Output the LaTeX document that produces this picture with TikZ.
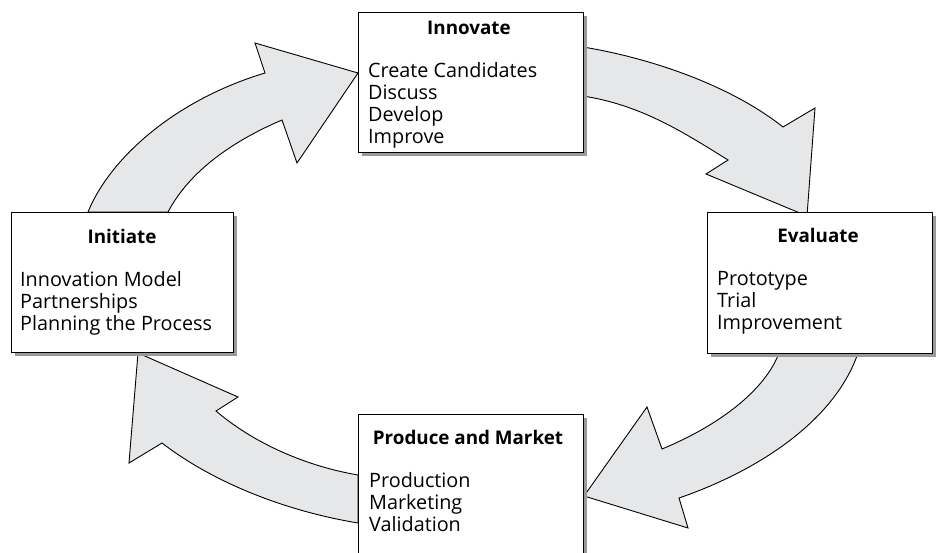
\documentclass[tikz,border=0pt]{standalone}
\usepackage{fontspec}
\setmainfont[Ligatures=NoCommon]{Open Sans}
\usetikzlibrary{shadows}
\definecolor{bandgray}{HTML}{E6E7E8}
\definecolor{shadowgray}{HTML}{9A9A9A}
\begin{document}
\begin{tikzpicture}[x=1pt,y=-1pt,
  band/.style={fill=bandgray, draw=black, line width=0.9pt, line join=miter},
  stagebox/.style={draw=black, line width=1.4pt, fill=white, anchor=north west, inner sep=0pt,
     drop shadow={shadow xshift=3pt, shadow yshift=-3pt, fill=shadowgray, opacity=1}},
  stagetitle/.style={font=\fontsize{18.8}{22}\selectfont\bfseries, anchor=base, inner sep=0pt},
  stageitem/.style={font=\fontsize{19.8}{22}\selectfont, anchor=base west, inner sep=0pt}]
\useasboundingbox (0,0) rectangle (941,552);

% arrows
\draw[band] (88,212) .. controls (110,158) and (175,100) .. (265,73) -- (255,43) -- (358,73) -- (297,163) -- (282,120)
  .. controls (235,140) and (190,170) .. (168,212) -- cycle;
\draw[band] (583,47) .. controls (650,58) and (730,85) .. (783,127) -- (815,108) -- (807,216) -- (706,174) -- (728,160)
  .. controls (680,130) and (640,105) .. (583,96) -- cycle;
\draw[band] (858,353) .. controls (835,420) and (760,470) .. (679,498) -- (688,528) -- (584,496) -- (647,407) -- (662,449)
  .. controls (720,425) and (765,390) .. (779,353) -- cycle;
\draw[band] (358,475) .. controls (300,465) and (250,440) .. (216,411) -- (238,397) -- (138,353) -- (129,463) -- (162,443)
  .. controls (210,480) and (280,510) .. (358,523) -- cycle;

% boxes
\node[stagebox, minimum width=225pt, minimum height=140pt] (innovate) at (358,12) {};
\node[stagebox, minimum width=222pt, minimum height=140pt] (initiate) at (11,212) {};
\node[stagebox, minimum width=225pt, minimum height=141pt] (evaluate) at (707,212) {};
\node[stagebox, minimum width=225pt, minimum height=150pt] (produce) at (358,414) {};

% texts
\node[stagetitle] (t1) at (469,34) {Innovate};
\node[stageitem] (i11) at (368,77) {Create Candidates};
\node[stageitem] (i12) at (368,99) {Discuss};
\node[stageitem] (i13) at (368,121) {Develop};
\node[stageitem] (i14) at (368,143) {Improve};

\node[stagetitle] (t2) at (122,243) {Initiate};
\node[stageitem] (i21) at (20,286) {Innovation Model};
\node[stageitem] (i22) at (20,308) {Partnerships};
\node[stageitem] (i23) at (20,330) {Planning the Process};

\node[stagetitle] (t3) at (818,242) {Evaluate};
\node[stageitem] (i31) at (717,285) {Prototype};
\node[stageitem] (i32) at (717,307) {Trial};
\node[stageitem] (i33) at (717,329) {Improvement};

\node[stagetitle] (t4) at (468,444) {Produce and Market};
\node[stageitem] (i41) at (369,487) {Production};
\node[stageitem] (i42) at (369,509) {Marketing};
\node[stageitem] (i43) at (369,531) {Validation};
\end{tikzpicture}
\end{document}
